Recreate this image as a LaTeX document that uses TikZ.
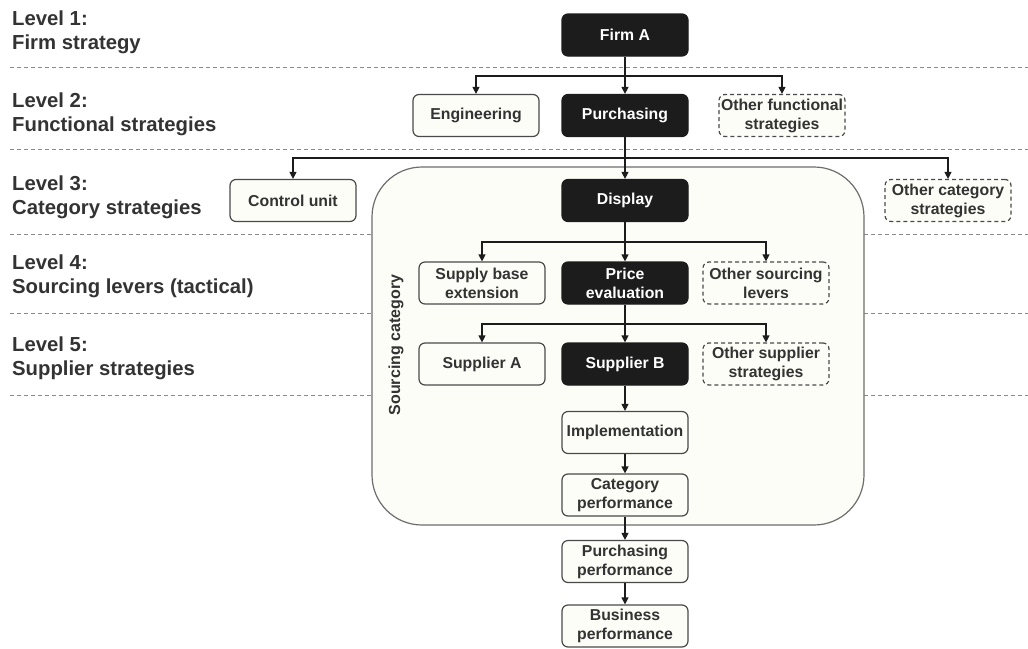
\documentclass[tikz,border=0pt]{standalone}
\usepackage{fontspec}
\setmainfont{Liberation Sans}
\usetikzlibrary{arrows.meta}
\definecolor{ink}{HTML}{333333}
\definecolor{edge}{HTML}{4A4A4A}
\definecolor{cream}{HTML}{FDFDF7}
\definecolor{blk}{HTML}{1C1C1C}
\definecolor{sepgray}{HTML}{8A8A8A}
\begin{document}
\begin{tikzpicture}[x=1pt,y=-1pt,
  box/.style={rounded corners=6pt, minimum width=126pt, minimum height=42pt, align=center,
    font=\bfseries\fontsize{15.8}{19}\selectfont, inner sep=0pt, line width=1.2pt, draw=edge},
  wbox/.style={box, fill=cream, text=ink},
  bbox/.style={box, fill=blk, draw=blk, text=white},
  dbox/.style={wbox, dashed, dash pattern=on 4pt off 3pt},
  arr/.style={line width=1.2pt, draw=blk, -{Triangle[width=7pt,length=7pt]}},
  lvl/.style={anchor=west, align=left, inner sep=0pt, text=ink,
    font=\bfseries\fontsize{20.3}{24}\selectfont},
  sep/.style={draw=sepgray, line width=1pt, dash pattern=on 4pt off 3pt}]
\useasboundingbox (0,0) rectangle (1028,648);
\fill[white] (0,0) rectangle (1028,648);
% level separators
\foreach \yy in {67,149,234,313,395} \draw[sep] (10,\yy) -- (1028,\yy);
% level labels
\node[lvl] (l1) at (12,32) {Level 1:\\Firm strategy};
\node[lvl] (l2) at (12,114) {Level 2:\\Functional strategies};
\node[lvl] (l3) at (12,197) {Level 3:\\Category strategies};
\node[lvl] (l4) at (12,276) {Level 4:\\Sourcing levers (tactical)};
\node[lvl] (l5) at (12,358) {Level 5:\\Supplier strategies};
% sourcing category container
\draw[line width=1.2pt, draw=edge!80, fill=cream, rounded corners=50pt] (372,167) rectangle (864,525);
\node[rotate=90, text=ink, font=\bfseries\fontsize{16}{18}\selectfont] (sc) at (396,345) {Sourcing category};
% nodes
\node[bbox] (firm) at (625,35) {Firm A};
\node[wbox] (eng) at (476,115.5) {Engineering};
\node[bbox] (pur) at (625,115.5) {Purchasing};
\node[dbox] (ofs) at (782,115.5) {Other functional\\strategies};
\node[wbox] (cu) at (293,200.5) {Control unit};
\node[bbox] (dis) at (625,200.5) {Display};
\node[dbox] (ocs) at (948,200.5) {Other category\\strategies};
\node[wbox] (sbe) at (482,283) {Supply base\\extension};
\node[bbox] (pe) at (625,283) {Price\\evaluation};
\node[dbox] (osl) at (766,283) {Other sourcing\\levers};
\node[wbox] (sa) at (482,364) {Supplier A};
\node[bbox] (sb) at (625,364) {Supplier B};
\node[dbox] (oss) at (766,364) {Other supplier\\strategies};
\node[wbox] (imp) at (625,432.5) {Implementation};
\node[wbox] (cp) at (625,495) {Category\\performance};
\node[wbox] (pp) at (625,561.5) {Purchasing\\performance};
\node[wbox] (bp) at (625,626) {Business\\performance};
% branch points
\coordinate (j2) at (625,76);
\coordinate (j3) at (625,158);
\coordinate (j4) at (625,242);
\coordinate (j5) at (625,324);
% connectors
\draw[arr] (firm) -- (pur);
\draw[arr] (j2) -| (eng.north);
\draw[arr] (j2) -| (ofs.north);
\draw[arr] (pur) -- (dis);
\draw[arr] (j3) -| (cu.north);
\draw[arr] (j3) -| (ocs.north);
\draw[arr] (dis) -- (pe);
\draw[arr] (j4) -| (sbe.north);
\draw[arr] (j4) -| (osl.north);
\draw[arr] (pe) -- (sb);
\draw[arr] (j5) -| (sa.north);
\draw[arr] (j5) -| (oss.north);
\draw[arr] (sb) -- (imp);
\draw[arr] (imp) -- (cp);
\draw[arr] (cp) -- (pp);
\draw[arr] (pp) -- (bp);
\end{tikzpicture}
\end{document}
